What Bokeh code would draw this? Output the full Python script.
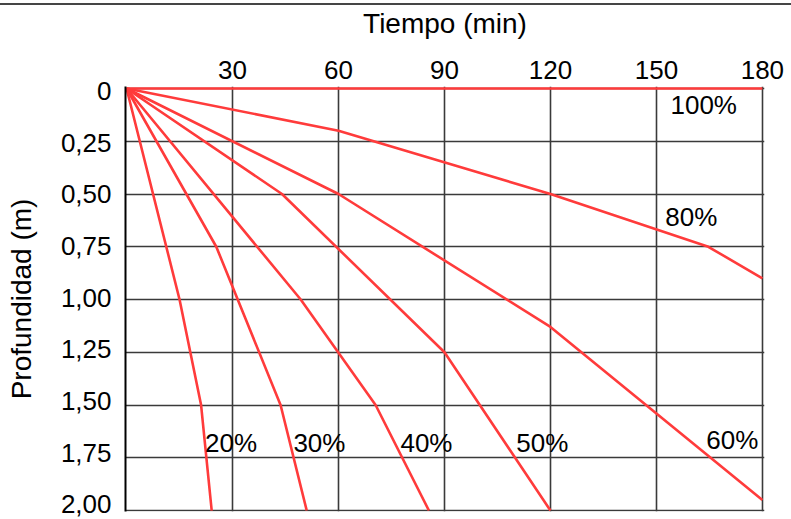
from bokeh.plotting import figure
from bokeh.models import Range1d, FixedTicker
from bokeh.core.properties import value
from bokeh.embed import file_html
from bokeh.resources import INLINE

# ---- data ----
time_ticks = [30, 60, 90, 120, 150, 180]
depth_ticks = [0, 0.25, 0.5, 0.75, 1.0, 1.25, 1.5, 1.75, 2.0]
depth_tick_labels = ["0", "0,25", "0,50", "0,75", "1,00", "1,25", "1,50", "1,75", "2,00"]

series_names = ["100%", "80%", "60%", "50%", "40%", "30%", "20%"]
t_100 = [0, 180]
d_100 = [0, 0]
t_80 = [0, 60, 120, 164.7, 180]
d_80 = [0, 0.2, 0.5, 0.75, 0.9]
t_60 = [0, 60, 120, 180]
d_60 = [0, 0.5, 1.13, 1.95]
t_50 = [0, 44, 90, 120]
d_50 = [0, 0.5, 1.25, 2.0]
t_40 = [0, 49.3, 70.5, 85.6]
d_40 = [0, 1.0, 1.5, 2.0]
t_30 = [0, 25.4, 43.6, 51]
d_30 = [0, 0.75, 1.5, 2.0]
t_20 = [0, 15, 21.1, 24.1]
d_20 = [0, 1.0, 1.5, 2.0]

series_t = [t_100, t_80, t_60, t_50, t_40, t_30, t_20]
series_d = [d_100, d_80, d_60, d_50, d_40, d_30, d_20]

# label anchor positions (data coords)
label_x = [163.4, 159.9, 171.5, 117.7, 84.9, 54.6, 29.6]
label_y = [0.076, 0.61, 1.668, 1.68, 1.68, 1.68, 1.68]

FONT = "Liberation Sans"
RED = "#ff3b3b"

p = figure(width=791, height=519, output_backend="svg", toolbar_location=None,
           x_axis_location="above",
           x_range=Range1d(-0.3, 180.6), y_range=Range1d(2.0047, -0.0095),
           min_border_left=125, min_border_right=27, min_border_top=86, min_border_bottom=8)
p.outline_line_color = None
p.background_fill_color = "white"
p.border_fill_alpha = 0
p.styles = {"background": "linear-gradient(to bottom, #ffffff 0px, #ffffff 3px, #454545 3px, "
                          "#454545 5px, #ffffff 5px, #ffffff 100%)"}

# the depth tick labels sit on a slightly tighter scale than the grid, as in the original
p.extra_y_ranges = {"labels": Range1d(start=2.0339, end=-0.0218)}

# axes
xa = p.xaxis[0]
xa.ticker = FixedTicker(ticks=time_ticks)
xa.axis_label = "Tiempo (min)"
xa.axis_line_color = None
xa.major_tick_line_color = None
xa.minor_tick_line_color = None
xa.major_label_text_font = FONT
xa.major_label_text_font_size = "26px"
xa.major_label_text_color = "black"
xa.major_label_standoff = 2
xa.axis_label_text_font = FONT
xa.axis_label_text_font_size = "28px"
xa.axis_label_text_font_style = "normal"
xa.axis_label_text_color = "black"
xa.axis_label_standoff = 19

ya = p.yaxis[0]
ya.y_range_name = "labels"
ya.ticker = FixedTicker(ticks=depth_ticks)
ya.major_label_overrides = {t: s for t, s in zip(depth_ticks, depth_tick_labels)}
ya.axis_label = "Profundidad (m)"
ya.axis_line_color = "black"
ya.axis_line_width = 2
ya.major_tick_line_color = None
ya.minor_tick_line_color = None
ya.major_label_text_font = FONT
ya.major_label_text_font_size = "26px"
ya.major_label_text_color = "black"
ya.major_label_standoff = 8
ya.axis_label_text_font = FONT
ya.axis_label_text_font_size = "28px"
ya.axis_label_text_font_style = "normal"
ya.axis_label_text_color = "black"
ya.axis_label_standoff = 21

gy = p.ygrid[0]
gy.axis = None
gy.ticker = FixedTicker(ticks=depth_ticks)
gy.y_range_name = "default"

p.xgrid.grid_line_color = "#3a3a3a"
p.xgrid.grid_line_width = 1.6
p.ygrid.grid_line_color = "#3a3a3a"
p.ygrid.grid_line_width = 1.6

for t, d in zip(series_t, series_d):
    p.line(t, d, line_color=RED, line_width=2.6)

p.text(x=label_x, y=label_y, text=series_names, text_font=value(FONT),
       text_font_size="26px", text_color="black", text_align="center",
       text_baseline="middle")

open("out.html", "w").write(file_html(p, INLINE))
